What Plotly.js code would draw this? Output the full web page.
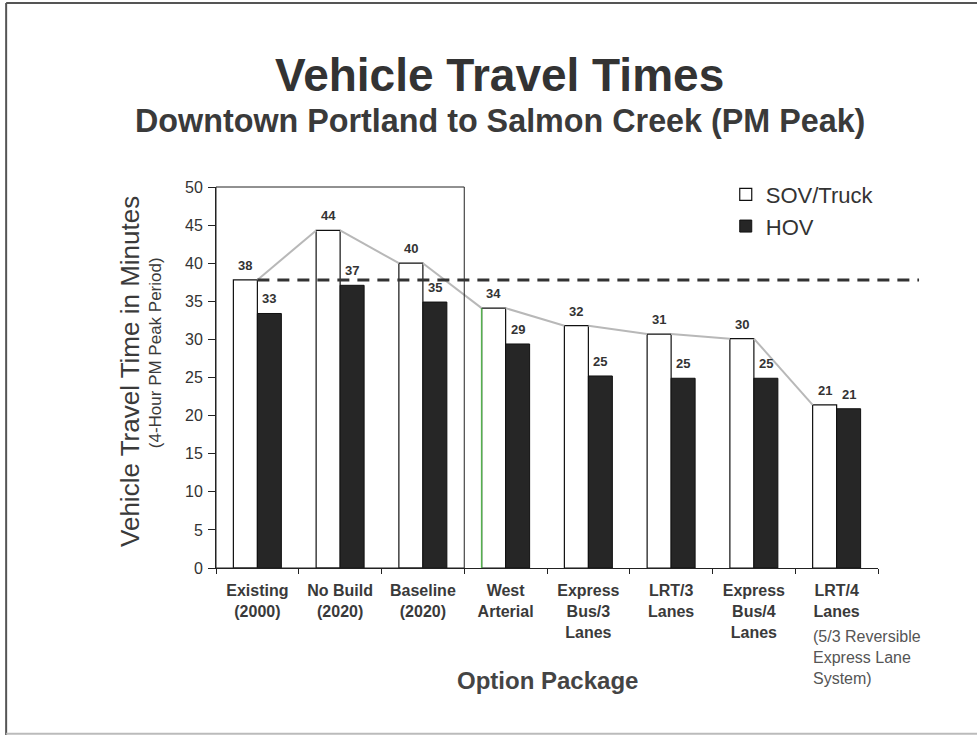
<!DOCTYPE html>
<html>
<head>
<meta charset="utf-8">
<script src="https://cdn.plot.ly/plotly-3.0.1.min.js"></script>
<style>html,body{margin:0;padding:0;background:#fff;}#chart{width:977px;height:735px;}</style>
</head>
<body>
<div id="chart"></div>
<script>
// ---- data ----
const categories = ["Existing<br>(2000)", "No Build<br>(2020)", "Baseline<br>(2020)", "West<br>Arterial",
  "Express<br>Bus/3<br>Lanes", "LRT/3<br>Lanes", "Express<br>Bus/4<br>Lanes", "LRT/4<br>Lanes"];
const sovValues = [37.8, 44.3, 40.0, 34.1, 31.8, 30.7, 30.1, 21.4];
const hovValues = [33.4, 37.1, 34.9, 29.4, 25.2, 24.9, 24.9, 20.9];
const seriesNames = ["SOV/Truck", "HOV"];
const yTicks = [0, 5, 10, 15, 20, 25, 30, 35, 40, 45, 50];
const noteText = "(5/3 Reversible<br>Express Lane<br>System)";

const FONT = "Liberation Sans, Arial, sans-serif";
const TXT = "#333333";
const bargap = 0.42;
const bw = (1 - bargap) / 2;
const yMax = 50;
const n = categories.length;

// connecting line between SOV bar tops
const lx = [], ly = [];
for (let i = 0; i < n - 1; i++) {
  lx.push(i, i + 1 - bw, null);
  ly.push(sovValues[i], sovValues[i + 1], null);
}

const traces = [
  {type: "bar", x: categories, y: sovValues, name: seriesNames[0], legendgroup: "a",
   marker: {color: "#ffffff", line: {color: "#111111", width: 1.2}}, hoverinfo: "y"},
  {type: "bar", x: categories, y: hovValues, name: seriesNames[1], legendgroup: "b",
   marker: {color: "#262626", line: {color: "#111111", width: 1}}, hoverinfo: "y"},
  {type: "scatter", mode: "lines", xaxis: "x2", yaxis: "y", x: lx, y: ly, showlegend: false,
   line: {color: "#b8b8b8", width: 2}, hoverinfo: "skip", connectgaps: false}
];

const ann = [];
sovValues.forEach((v, i) => ann.push({xref: "x2", yref: "y", x: i - bw / 2, y: v, text: "<b>" + Math.round(v) + "</b>",
  showarrow: false, yanchor: "bottom", yshift: 5, font: {family: FONT, size: 13, color: TXT}}));
hovValues.forEach((v, i) => ann.push({xref: "x2", yref: "y", x: i + bw / 2, y: v, text: "<b>" + Math.round(v) + "</b>",
  showarrow: false, yanchor: "bottom", yshift: 5, font: {family: FONT, size: 13, color: TXT}}));

ann.push(
  {xref: "paper", yref: "paper", x: 0.429, y: 1.294, text: "<b>Vehicle Travel Times</b>", showarrow: false,
   xanchor: "center", yanchor: "middle", font: {family: FONT, size: 46, color: "#333333"}},
  {xref: "paper", yref: "paper", x: 0.429, y: 1.173, text: "<b>Downtown Portland to Salmon Creek (PM Peak)</b>", showarrow: false,
   xanchor: "center", yanchor: "middle", font: {family: FONT, size: 32.3, color: "#3a3a3a"}},
  {xref: "paper", yref: "paper", x: -0.130, y: 0.517, text: "Vehicle Travel Time in Minutes", showarrow: false,
   textangle: -90, xanchor: "center", yanchor: "middle", font: {family: FONT, size: 26, color: "#3a3a3a"}},
  {xref: "paper", yref: "paper", x: -0.092, y: 0.564, text: "(4-Hour PM Peak Period)", showarrow: false,
   textangle: -90, xanchor: "center", yanchor: "middle", font: {family: FONT, size: 17, color: "#3a3a3a"}},
  {xref: "paper", yref: "paper", x: 0.5, y: -0.294, text: "<b>Option Package</b>", showarrow: false,
   xanchor: "center", yanchor: "middle", font: {family: FONT, size: 24, color: "#444444"}},
  {xref: "paper", yref: "paper", x: 0.899, y: -0.152, text: noteText, showarrow: false, align: "left",
   xanchor: "left", yanchor: "top", font: {family: FONT, size: 16, color: "#555555"}}
);

const shapes = [
  // box around first three packages
  {type: "rect", xref: "paper", yref: "paper", x0: 0, x1: 3 / n, y0: 0, y1: 1, line: {color: "#222222", width: 1}},
  // reference dashed line at existing travel time
  {type: "line", xref: "paper", yref: "paper", x0: 0.5 / n, x1: 1.062, y0: sovValues[0] / yMax, y1: sovValues[0] / yMax,
   line: {color: "#333333", width: 3, dash: "12px,8px"}},
  // green edge on West Arterial bar
  {type: "line", xref: "x2", yref: "y", x0: 3 - bw, x1: 3 - bw, y0: 0, y1: sovValues[3],
   line: {color: "#55b04f", width: 1.5}},
  // outer frame
  {type: "line", xref: "paper", yref: "paper", x0: -0.317, x1: 1.2, y0: 1.483, y1: 1.483, line: {color: "#555555", width: 2}},
  {type: "line", xref: "paper", yref: "paper", x0: -0.317, x1: -0.317, y0: 1.483, y1: -0.44, line: {color: "#555555", width: 2}},
  {type: "line", xref: "paper", yref: "paper", x0: -0.317, x1: 1.2, y0: -0.435, y1: -0.435, line: {color: "#bbbbbb", width: 2}}
];

const layout = {
  width: 977, height: 735,
  margin: {l: 216, r: 99, t: 187, b: 167},
  paper_bgcolor: "#ffffff", plot_bgcolor: "#ffffff",
  font: {family: FONT, color: TXT},
  barmode: "group", bargap: bargap, bargroupgap: 0,
  showlegend: true,
  legend: {x: 0.77, y: 1.035, xanchor: "left", yanchor: "top", bgcolor: "rgba(0,0,0,0)",
    font: {family: FONT, size: 22, color: "#333333"}, tracegroupgap: 0, itemwidth: 30},
  xaxis: {type: "category", tickson: "boundaries", ticks: "outside", ticklen: 5, tickcolor: "#222",
    showline: true, linecolor: "#222", linewidth: 1, showgrid: false, zeroline: false,
    tickfont: {family: FONT, size: 16, color: "#3a3a3a", weight: "bold"}, ticklabelstandoff: 8,
    range: [-0.5, n - 0.5]},
  xaxis2: {overlaying: "x", range: [-0.5, n - 0.5], visible: false, showgrid: false, zeroline: false},
  yaxis: {range: [0, yMax], tickvals: yTicks, ticks: "outside", ticklen: 7, tickcolor: "#222",
    showline: true, linecolor: "#222", linewidth: 1, showgrid: false, zeroline: false,
    tickfont: {family: FONT, size: 16, color: "#333333"}, ticklabelstandoff: 2},
  annotations: ann,
  shapes: shapes
};

Plotly.newPlot("chart", traces, layout, {staticPlot: true, displayModeBar: false});
</script>
</body>
</html>
